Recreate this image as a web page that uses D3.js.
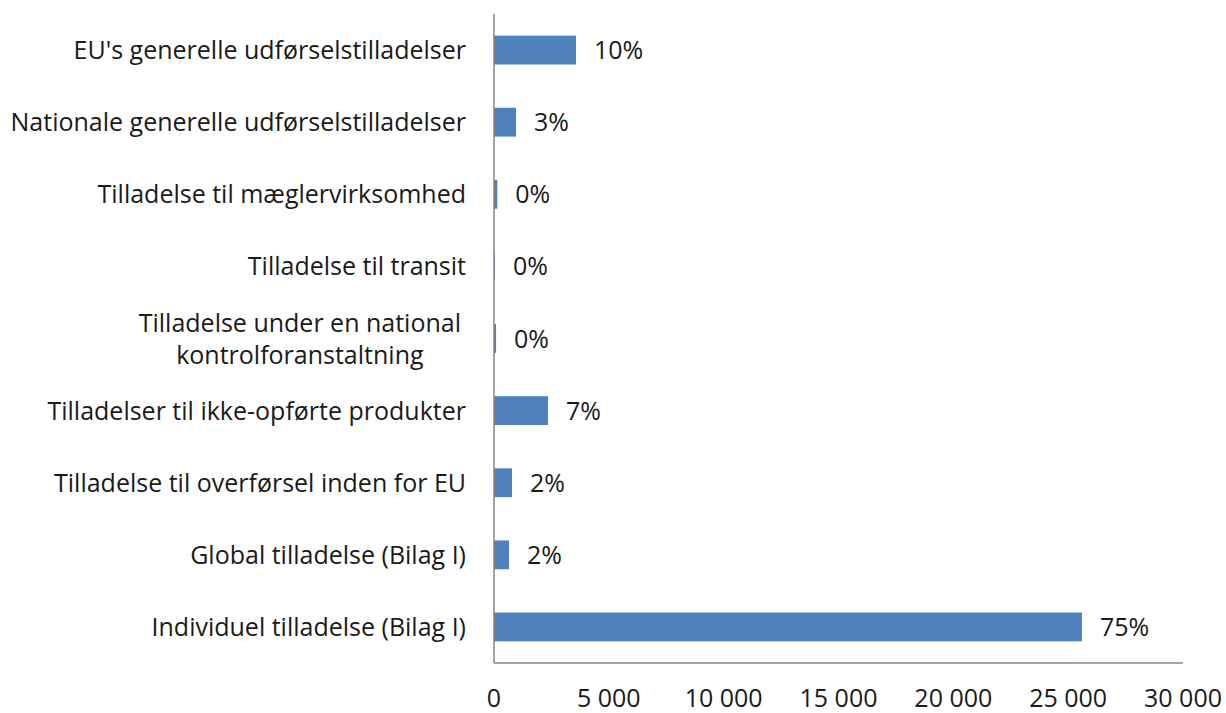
<!DOCTYPE html>
<html>
<head>
<meta charset="utf-8">
<script src="https://cdn.jsdelivr.net/npm/d3@7"></script>
<style>
  body { margin: 0; background: #fff; }
  svg text { font-family: "Open Sans", sans-serif; fill: #1a1a1a; }
</style>
</head>
<body>
<svg width="1226" height="713"></svg>
<script>
const categories = [
  ["EU's generelle udførselstilladelser"],
  ["Nationale generelle udførselstilladelser"],
  ["Tilladelse til mæglervirksomhed"],
  ["Tilladelse til transit"],
  ["Tilladelse under en national", "kontrolforanstaltning"],
  ["Tilladelser til ikke-opførte produkter"],
  ["Tilladelse til overførsel inden for EU"],
  ["Global tilladelse (Bilag I)"],
  ["Individuel tilladelse (Bilag I)"]
];
const values = [3570, 960, 145, 40, 90, 2350, 785, 655, 25600];
const percentLabels = ['10%', '3%', '0%', '0%', '0%', '7%', '2%', '2%', '75%'];
const tickValues = [0, 5000, 10000, 15000, 20000, 25000, 30000];

const svg = d3.select('svg');
const plotLeft = 494, plotRight = 1183, plotTop = 14, plotBottom = 663;
const fontSize = '25px';

const x = d3.scaleLinear().domain([0, 30000]).range([plotLeft, plotRight]);
const y = d3.scaleBand().domain(d3.range(categories.length)).range([plotTop, plotBottom]).paddingInner(0.6).paddingOuter(0.3);

// bars
svg.selectAll('rect.bar')
  .data(values)
  .join('rect')
  .attr('class', 'bar')
  .attr('x', x(0))
  .attr('y', (d, i) => y(i))
  .attr('width', d => x(d) - x(0))
  .attr('height', y.bandwidth())
  .style('fill', '#4f81bd');

// value labels
svg.selectAll('text.val')
  .data(values)
  .join('text')
  .attr('class', 'val')
  .attr('x', d => x(d) + 18)
  .attr('y', (d, i) => y(i) + y.bandwidth() / 2)
  .attr('dy', '0.36em')
  .style('font-size', fontSize)
  .text((d, i) => percentLabels[i]);

// axis lines
svg.append('line')
  .attr('x1', plotLeft).attr('x2', plotLeft)
  .attr('y1', plotTop).attr('y2', plotBottom)
  .style('stroke', '#868686').style('stroke-width', 1.5);
svg.append('line')
  .attr('x1', plotLeft).attr('x2', plotRight)
  .attr('y1', plotBottom).attr('y2', plotBottom)
  .style('stroke', '#868686').style('stroke-width', 1.5);

// tick labels
svg.selectAll('text.tick')
  .data(tickValues)
  .join('text')
  .attr('class', 'tick')
  .attr('x', d => x(d))
  .attr('y', 707)
  .attr('text-anchor', 'middle')
  .style('font-size', fontSize)
  .text(d => d === 0 ? '0' : d3.format(',')(d).replace(',', ' '));

// category labels
const labelRight = 466;
categories.forEach((lines, i) => {
  const cy = y(i) + y.bandwidth() / 2;
  const g = svg.append('g');
  const n = lines.length;
  const texts = lines.map((s, k) => g.append('text')
    .attr('y', cy + (k - (n - 1) / 2) * 32)
    .attr('dy', '0.36em')
    .style('font-size', fontSize)
    .text(s));
  if (n === 1) {
    texts[0].attr('x', labelRight).attr('text-anchor', 'end');
  } else {
    const w = d3.max(texts, t => t.node().getComputedTextLength());
    texts.forEach(t => t.attr('x', labelRight - 5 - w / 2).attr('text-anchor', 'middle'));
  }
});
</script>
</body>
</html>
